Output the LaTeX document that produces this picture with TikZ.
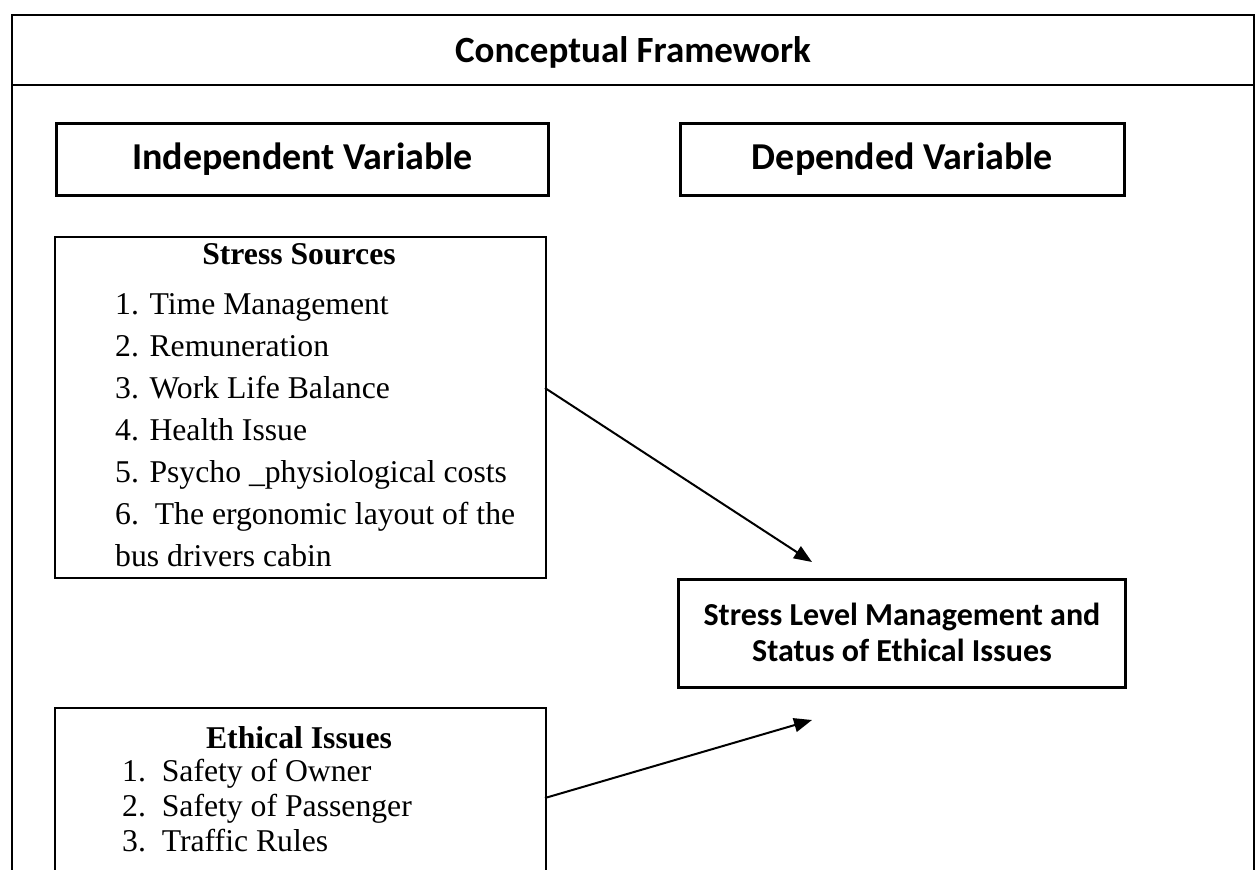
\documentclass[tikz,border=0pt]{standalone}
\usepackage{fontspec}
\setmainfont{Liberation Serif}
\newfontfamily\calib{Carlito}
\usetikzlibrary{arrows.meta}
\begin{document}
\begin{tikzpicture}[x=1pt,y=-1pt,
  thickbox/.style={draw, line width=3pt, rectangle, inner sep=0pt, anchor=north west},
  thinbox/.style={draw, line width=2pt, rectangle, inner sep=0pt, anchor=north west},
  titletxt/.style={font=\calib\bfseries\fontsize{37}{44}\selectfont, inner sep=0pt},
  headtxt/.style={font=\calib\bfseries\fontsize{38}{44}\selectfont, inner sep=0pt},
  midtxt/.style={font=\calib\bfseries\fontsize{32}{38}\selectfont, inner sep=0pt},
  subtxt/.style={font=\bfseries\fontsize{31.7}{38}\selectfont, inner sep=0pt, anchor=base},
  itemtxt/.style={font=\fontsize{31.7}{38}\selectfont, inner sep=0pt, anchor=base west},
  arr/.style={line width=2pt, -{Triangle[length=18pt,width=14pt]}}
]
\path[use as bounding box] (0,0) rectangle (1259,870);
\clip (0,0) rectangle (1259,870);
% outer frame
\draw[line width=2pt] (12,880) -- (12,15) -- (1254,15) -- (1254,880);
\draw[line width=2pt] (12,85) -- (1254,85);
\node[titletxt] (title) at (633,52) {Conceptual Framework};
% variable headers
\node[thickbox, minimum width=492pt, minimum height=72pt] (ivbox) at (55,122) {};
\node[headtxt] (ivtxt) at (ivbox.center) {Independent Variable};
\node[thickbox, minimum width=444pt, minimum height=72pt] (dvbox) at (679,122) {};
\node[headtxt] (dvtxt) at (dvbox.center) {Depended Variable};
% stress sources
\node[thinbox, minimum width=491pt, minimum height=341pt] (ssbox) at (54,236) {};
\node[subtxt] (sst) at (299,264) {Stress Sources};
\node[itemtxt] (s1) at (115,314) {1. Time Management};
\node[itemtxt] (s2) at (115,356) {2. Remuneration};
\node[itemtxt] (s3) at (115,398) {3. Work Life Balance};
\node[itemtxt] (s4) at (115,440) {4. Health Issue};
\node[itemtxt] (s5) at (115,482) {5. Psycho \textunderscore physiological costs};
\node[itemtxt] (s6) at (115,524) {6.\ \ The ergonomic layout of the};
\node[itemtxt] (s7) at (115,566) {bus drivers cabin};
% ethical issues
\node[thinbox, minimum width=491pt, minimum height=250pt] (eibox) at (54,707) {};
\node[subtxt] (eit) at (299,748) {Ethical Issues};
\node[itemtxt] (e1) at (122,781) {1.\ \ Safety of Owner};
\node[itemtxt] (e2) at (122,816) {2.\ \ Safety of Passenger};
\node[itemtxt] (e3) at (122,851) {3.\ \ Traffic Rules};
% dependent box
\node[thickbox, minimum width=447pt, minimum height=108pt] (tbox) at (677,578) {};
\node[midtxt] (t1) at ([yshift=17pt]tbox.center) {Stress Level Management and};
\node[midtxt] (t2) at ([yshift=-17pt]tbox.center) {Status of Ethical Issues};
% arrows
\coordinate (a1s) at (545,388);
\coordinate (a1e) at (812,562);
\coordinate (a2s) at (545,798);
\coordinate (a2e) at (812,720);
\draw[arr] (a1s) -- (a1e);
\draw[arr] (a2s) -- (a2e);
\end{tikzpicture}
\end{document}
